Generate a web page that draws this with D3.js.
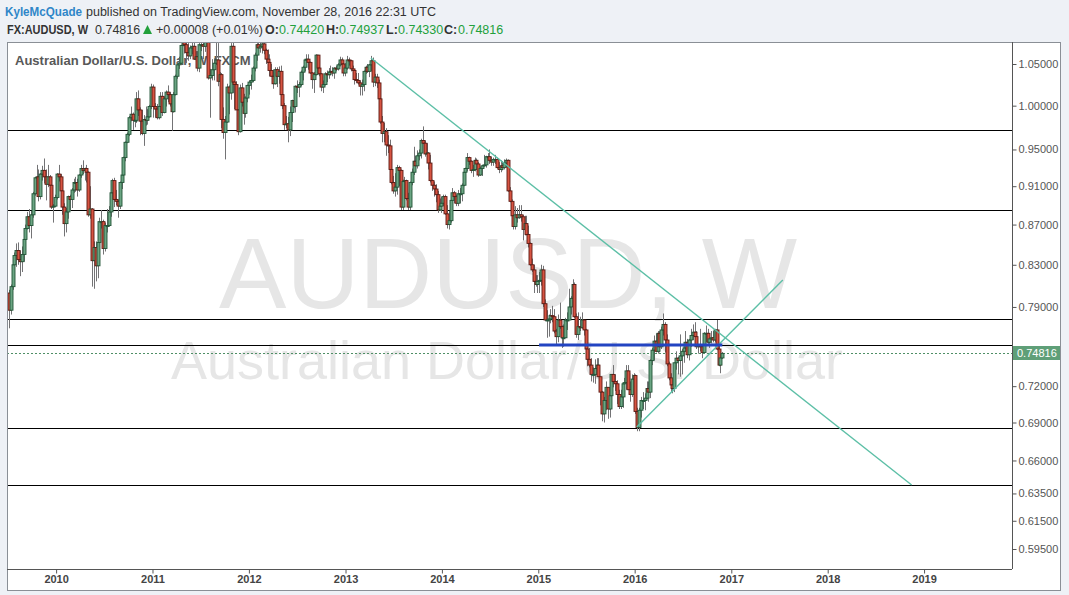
<!DOCTYPE html>
<meta charset="utf-8">
<style>
body { margin: 0; background: #eef1f6; }
svg { display: block; }
.hdr { font-family: "Liberation Sans", Arial, sans-serif; font-size: 12.5px; fill: #333; }
.hdr .b { font-weight: bold; }
.hdr .g { fill: #22a03c; }
.axis text { font-family: "Liberation Sans", Arial, sans-serif; font-size: 11px; fill: #555; }
.axis line { stroke: #555; }
.axis path { display: none; }
.axis--x text { font-weight: bold; fill: #444; }
.wm { font-family: "Liberation Sans", Arial, sans-serif; fill: #e6e6e6; text-anchor: middle; }
.wick { stroke: #737375; stroke-width: 1; }
.hline { stroke: #000; stroke-width: 1; shape-rendering: crispEdges; }
.trend { stroke: #5cbfa6; stroke-width: 1.4; fill: none; }
</style>
<svg width="1069" height="595"></svg>
<script src="https://d3js.org/d3.v7.min.js"></script>
<script>

// weekly bars, [open, high, low, close] in 1/10000 USD, first bar week of 2009-07-06
var firstWeek = new Date(2009, 6, 6);

var weeks2009 = [[8030,8060,7705,7870],[7870,8110,7830,8090],[8090,8320,8060,8300],[8300,8420,8220,8390],[8390,8510,8280,8440],[8440,8520,8300,8350],[8350,8440,8190,8330],[8330,8480,8230,8400],[8400,8580,8330,8550],[8550,8700,8500,8660],
  [8660,8830,8650,8780],[8780,8860,8620,8690],[8690,8840,8560,8800],[8800,9040,8770,9020],[9020,9200,9000,9190],[9190,9330,9160,9200],[9200,9280,8940,8990],[8990,9240,8960,9230],[9230,9320,9160,9270],[9270,9400,9130,9200],
  [9200,9280,8950,9120],[9120,9330,9090,9200],[9200,9220,9030,9110],[9110,9160,8860,8880],[8880,8910,8720,8890],[8890,9010,8880,8980]];

var weeks2010 = [[8980,9240,8960,9230],[9230,9330,9150,9200],[9200,9230,9020,9050],[9050,9070,8800,8880],[8880,8920,8580,8710],[8710,8870,8620,8830],[8830,9000,8760,8990],[8990,9010,8840,8960],[8960,9080,8870,9060],[9060,9180,9030,9140],
  [9140,9200,9040,9140],[9140,9180,8990,9060],[9060,9230,9040,9220],[9220,9330,9190,9290],[9290,9380,9230,9270],[9270,9300,9160,9290],[9290,9330,9140,9250],[9250,9260,8780,8800],[8800,9100,8760,8860],[8860,8870,8090,8340],
  [8340,8530,8070,8470],[8470,8530,8140,8290],[8290,8530,8170,8520],[8520,8770,8490,8730],[8730,8850,8660,8730],[8730,8750,8400,8460],[8460,8720,8430,8690],[8690,8860,8620,8690],[8690,8890,8680,8830],[8830,9060,8780,9030],
  [9030,9180,9010,9160],[9160,9190,8880,8960],[8960,9060,8900,8940],[8940,8960,8770,8890],[8890,9150,8860,9140],[9140,9250,9070,9220],[9220,9420,9180,9410],[9410,9590,9370,9580],[9580,9690,9570,9670],[9670,9880,9650,9860],
  [9860,9990,9820,9900],[9900,9920,9720,9830],[9830,9950,9750,9830],[9830,10160,9800,10080],[10080,10180,9880,9950],[9950,9980,9660,9820],[9820,9950,9660,9680],[9680,9890,9540,9840],[9840,9990,9770,9830],[9830,9960,9780,9870],
  [9870,10010,9860,9990],[9990,10260,9960,10220]];

var weeks2011 = [[10220,10250,9860,9990],[9990,10030,9860,9960],[9960,10020,9840,9860],[9860,10010,9840,9990],[9990,10160,9950,10110],[10110,10160,9880,9920],[9920,10110,9910,10080],[10080,10180,9990,10160],[10160,10240,10040,10130],[10130,10160,9990,10020],
  [10020,10080,9710,9930],[9930,10160,9920,10130],[10130,10370,10120,10350],[10350,10530,10320,10490],[10490,10590,10440,10510],[10510,10740,10500,10730],[10730,10950,10720,10950],[10950,11010,10630,10740],[10740,10890,10510,10640],[10640,10760,10540,10600],
  [10600,10730,10560,10700],[10700,10790,10620,10720],[10720,10780,10550,10560],[10560,10660,10510,10590],[10590,10660,10410,10450],[10450,10770,10400,10740],[10740,10800,10660,10740],[10740,10830,10560,10720],[10720,10930,10650,10890],[10890,11080,10820,10960],
  [10960,11000,10310,10330],[10330,10440,9860,10360],[10360,10560,10300,10430],[10430,10570,10300,10510],[10510,10770,10490,10550],[10550,10760,10230,10290],[10290,10400,10100,10370],[10370,10390,9740,9840],[9840,9980,9620,9690],[9690,9880,9390,9810],
  [9810,10260,9800,10220],[10220,10240,9900,10150],[10150,10760,10070,10720],[10720,10770,10150,10280],[10280,10370,9960,10250],[10250,10290,9950,9950],[9950,9960,9660,9700],[9700,10250,9690,10210],[10210,10270,9990,10040],[10040,10140,9780,9910],
  [9910,10110,9860,10090],[10090,10250,10040,10240]];

var weeks2012 = [[10240,10300,10130,10280],[10280,10370,10190,10300],[10300,10470,10280,10450],[10450,10640,10410,10610],[10610,10760,10540,10740],[10740,10860,10620,10700],[10700,10800,10640,10720],[10720,10800,10630,10750],[10750,10850,10620,10670],[10670,10690,10500,10560],
  [10560,10680,10440,10520],[10520,10620,10350,10420],[10420,10500,10350,10350],[10350,10430,10200,10260],[10260,10460,10250,10430],[10430,10460,10220,10350],[10350,10470,10260,10410],[10410,10480,10070,10130],[10130,10140,9960,10000],[10000,10030,9720,9780],
  [9780,9880,9740,9790],[9790,9870,9580,9720],[9720,9990,9650,9920],[9920,10070,9810,10060],[10060,10160,9970,9990],[9990,10240,9920,10230],[10230,10300,10150,10220],[10220,10280,10100,10250],[10250,10420,10230,10400],[10400,10480,10300,10460],
  [10460,10560,10410,10550],[10550,10620,10510,10560],[10560,10620,10430,10520],[10520,10530,10380,10390],[10390,10400,10200,10310],[10310,10400,10150,10370],[10370,10620,10360,10610],[10610,10610,10400,10450],[10450,10510,10350,10380],[10380,10390,10170,10220],
  [10220,10300,10150,10250],[10250,10400,10240,10380],[10380,10420,10280,10370],[10370,10450,10320,10400],[10400,10480,10360,10410],[10410,10460,10350,10390],[10390,10460,10320,10450],[10450,10480,10410,10440],[10440,10510,10420,10490],[10490,10590,10470,10550],
  [10550,10580,10440,10500],[10500,10510,10350,10390],[10390,10510,10350,10450]];

var weeks2013 = [[10450,10600,10430,10550],[10550,10580,10480,10540],[10540,10550,10410,10440],[10440,10480,10360,10420],[10420,10440,10250,10310],[10310,10390,10270,10300],[10300,10390,10250,10270],[10270,10300,10120,10230],[10230,10310,10120,10250],[10250,10420,10170,10410],
  [10410,10480,10380,10460],[10460,10500,10390,10410],[10410,10500,10340,10490],[10490,10600,10410,10540],[10540,10580,10220,10280],[10280,10380,10230,10340],[10340,10380,10210,10270],[10270,10310,10050,10080],[10080,10100,9790,9810],[9810,9880,9580,9680],
  [9680,9800,9580,9700],[9700,9740,9430,9550],[9550,9660,9460,9540],[9540,9610,9230,9280],[9280,9320,9120,9140],[9140,9210,9020,9050],[9050,9240,8990,9090],[9090,9330,9010,9300],[9300,9320,9100,9270],[9270,9280,8850,8880],
  [8880,9170,8850,9150],[9150,9200,9050,9160],[9160,9170,8950,8970],[8970,9030,8850,8880],[8880,9150,8850,9140],[9140,9290,9110,9250],[9250,9530,9220,9370],[9370,9430,9300,9320],[9320,9490,9290,9430],[9430,9500,9380,9460],
  [9460,9620,9400,9600],[9600,9760,9560,9570],[9570,9600,9420,9450],[9450,9570,9390,9460],[9460,9470,9280,9350],[9350,9440,9140,9160],[9160,9170,9050,9110],[9110,9150,8990,9070],[9070,9120,8930,9010],[9010,9050,8820,8850],
  [8850,8970,8840,8890],[8890,8990,8820,8920]];

var weeks2014 = [[8920,9010,8890,8990],[8990,9010,8800,8810],[8810,8900,8660,8700],[8700,8840,8650,8740],[8740,8970,8720,8950],[8950,9080,8910,9030],[9030,9050,8920,8990],[8990,9010,8890,8920],[8920,9060,8890,9020],[9020,9080,8920,9020],
  [9020,9130,8940,9110],[9110,9270,9100,9250],[9250,9300,9220,9290],[9290,9460,9260,9410],[9410,9420,9330,9370],[9370,9380,9240,9270],[9270,9330,9200,9280],[9280,9410,9260,9380],[9380,9400,9310,9340],[9340,9360,9200,9220],
  [9220,9310,9210,9290],[9290,9330,9210,9320],[9320,9440,9310,9330],[9330,9430,9300,9420],[9420,9460,9380,9420],[9420,9500,9340,9380],[9380,9420,9320,9360],[9360,9410,9320,9390],[9390,9440,9340,9390],[9390,9410,9290,9300],
  [9300,9360,9240,9280],[9280,9380,9250,9320],[9320,9370,9270,9300],[9300,9390,9280,9350],[9350,9400,9300,9380],[9380,9390,9040,9050],[9050,9090,8930,8940],[8940,8960,8740,8790],[8790,8800,8650,8680],[8680,8890,8650,8800],
  [8800,8870,8720,8770],[8770,8900,8760,8800],[8800,8900,8730,8780],[8780,8800,8540,8650],[8650,8790,8590,8710],[8710,8790,8590,8600],[8600,8690,8470,8510],[8510,8520,8290,8300],[8300,8360,8230,8250],[8250,8300,8030,8140],
  [8140,8200,8090,8110],[8110,8200,8030,8140]];

var weeks2015 = [[8140,8230,8030,8150],[8150,8300,8100,8250],[8250,8290,7900,7930],[7930,7970,7770,7780],[7780,7870,7620,7780],[7780,7830,7630,7790],[7790,7880,7750,7820],[7820,7910,7760,7810],[7810,7880,7660,7680],[7680,7700,7560,7630],
  [7630,7830,7580,7780],[7780,7940,7700,7720],[7720,7730,7530,7620],[7620,7740,7540,7620],[7620,7800,7620,7780],[7780,7850,7690,7780],[7780,8070,7780,7900],[7900,8000,7830,7980],[7980,8160,7950,8110],[8110,8130,7800,7810],
  [7810,7840,7620,7650],[7650,7850,7600,7720],[7720,7810,7680,7710],[7710,7850,7700,7780],[7780,7780,7640,7690],[7690,7700,7520,7520],[7520,7550,7370,7430],[7430,7530,7360,7380],[7380,7440,7240,7300],[7300,7360,7230,7300],
  [7300,7430,7220,7350],[7350,7440,7310,7380],[7380,7440,7280,7280],[7280,7280,7040,7150],[7150,7160,6910,6970],[6970,7110,6900,7080],[7080,7240,7000,7190],[7190,7190,6930,7010],[7010,7130,6940,7120],[7120,7300,7080,7300],
  [7300,7380,7190,7240],[7240,7300,7160,7220],[7220,7250,7050,7130],[7130,7170,7010,7030],[7030,7170,7010,7110],[7110,7220,7020,7220],[7220,7270,7160,7230],[7230,7380,7170,7330],[7330,7380,7170,7170],[7170,7240,7070,7130],
  [7130,7300,7110,7260],[7260,7310,7240,7290]];

var weeks2016 = [[7290,7300,6970,6990],[6990,7020,6830,6860],[6860,7020,6830,7000],[7000,7110,6940,7080],[7080,7150,7010,7080],[7080,7140,7000,7100],[7100,7240,7090,7180],[7180,7240,7070,7150],[7150,7430,7100,7420],[7420,7530,7380,7510],
  [7510,7640,7420,7590],[7590,7660,7490,7500],[7500,7680,7480,7660],[7660,7680,7490,7540],[7540,7720,7520,7690],[7690,7840,7640,7740],[7740,7760,7490,7600],[7600,7650,7370,7390],[7390,7410,7250,7270],[7270,7310,7150,7210],
  [7210,7250,7140,7180],[7180,7400,7150,7400],[7400,7500,7340,7440],[7440,7450,7300,7420],[7420,7650,7280,7460],[7460,7520,7300,7500],[7500,7550,7400,7530],[7530,7680,7500,7580],[7580,7610,7440,7470],[7470,7610,7420,7600],
  [7600,7700,7540,7640],[7640,7740,7600,7670],[7670,7760,7610,7630],[7630,7680,7520,7540],[7540,7560,7480,7550],[7550,7700,7500,7540],[7540,7550,7440,7490],[7490,7670,7490,7660],[7660,7730,7580,7660],[7660,7700,7560,7580],
  [7580,7640,7530,7610],[7610,7680,7570,7620],[7620,7680,7580,7600],[7600,7700,7580,7690],[7690,7780,7510,7520],[7520,7560,7370,7380],[7380,7450,7310,7442],[7442,7494,7433,7482]];

var lastPrice = 0.74816;
var priceTicks = [1.05, 1.00, 0.95, 0.91, 0.87, 0.83, 0.79, 0.72, 0.69, 0.66, 0.635, 0.615, 0.595];
var yearTicks = [2010, 2011, 2012, 2013, 2014, 2015, 2016, 2017, 2018, 2019];

// drawn levels and lines
var levels = [0.972, 0.885, 0.779, 0.7555, 0.6855, 0.6413];
var trendLines = [
  [["2013-04-07", 1.0574], ["2018-11-15", 0.6413]],
  [["2016-01-09", 0.6864], ["2017-07-15", 0.8153]]
];
var blueLine = [["2015-01-04", 0.7555], ["2016-11-28", 0.7555]];

var svg = d3.select("svg"),
    plotLeft = 7, plotRight = 1012, plotTop = 42, plotBottom = 569, outerRight = 1060, outerBottom = 590;

var parseDay = d3.timeParse("%Y-%m-%d");

var x = d3.scaleTime()
    .domain([new Date(2009, 5, 29), new Date(2019, 10, 30)])
    .range([plotLeft, plotRight]);
var y = d3.scaleLog()
    .domain([0.595, 1.05])
    .range([549, 64]);

var bars = [].concat(weeks2009, weeks2010, weeks2011, weeks2012, weeks2013, weeks2014, weeks2015, weeks2016)
  .map(function(w, i) {
    return {date: d3.timeDay.offset(firstWeek, 7 * i), o: w[0] / 1e4, h: w[1] / 1e4, l: w[2] / 1e4, c: w[3] / 1e4};
  });

// header
var hdr = svg.append("text").attr("class", "hdr").attr("y", 16);
hdr.append("tspan").attr("x", 5).style("fill", "#2f86c8").style("font-weight", "bold")
    .attr("textLength", 77).attr("lengthAdjust", "spacingAndGlyphs").text("KyleMcQuade");
hdr.append("tspan").attr("x", 86).text("published on TradingView.com, November 28, 2016 22:31 UTC");

var hdr2 = svg.append("text").attr("class", "hdr").attr("y", 34);
hdr2.append("tspan").attr("x", 7).attr("class", "b")
    .attr("textLength", 81).attr("lengthAdjust", "spacingAndGlyphs").text("FX:AUDUSD, W");
hdr2.append("tspan").attr("x", 95).text("0.74816");
hdr2.append("tspan").attr("x", 156).text("+0.00008 (+0.01%)");
[["O:", 265, "0.74420", 279], ["H:", 326, "0.74937", 339], ["L:", 386, "0.74330", 398], ["C:", 444, "0.74816", 458]]
  .forEach(function(p) {
    hdr2.append("tspan").attr("x", p[1]).attr("class", "b").text(p[0]);
    hdr2.append("tspan").attr("x", p[3]).attr("class", "g").text(p[2]);
  });
svg.append("path").attr("d", "M143,34L147.5,25L152,34Z").attr("fill", "#22a03c");

// chart panel
svg.append("rect")
    .attr("x", plotLeft + 0.5).attr("y", plotTop + 0.5)
    .attr("width", outerRight - plotLeft).attr("height", outerBottom - plotTop)
    .attr("fill", "#fff").attr("stroke", "#8a8f96");

svg.append("defs").append("clipPath").attr("id", "clip")
  .append("rect").attr("x", plotLeft + 1).attr("y", plotTop + 1)
  .attr("width", plotRight - plotLeft - 1).attr("height", plotBottom - plotTop - 1);

// watermark
svg.append("text").attr("class", "wm").attr("x", 508).attr("y", 308)
    .style("font-size", "101px").text("AUDUSD, W");
svg.append("text").attr("class", "wm").attr("x", 507).attr("y", 379)
    .style("font-size", "54px").text("Australian Dollar/U.S. Dollar");

svg.append("text").attr("x", 15).attr("y", 65)
    .style("font-family", "'Liberation Sans', Arial, sans-serif").style("font-size", "13px")
    .style("font-weight", "bold").attr("fill", "#585858")
    .text("Australian Dollar/U.S. Dollar, W, FXCM");

var g = svg.append("g").attr("clip-path", "url(#clip)");

g.selectAll(".hline").data(levels).enter().append("line")
    .attr("class", "hline")
    .attr("x1", plotLeft).attr("x2", plotRight)
    .attr("y1", function(d) { return Math.round(y(d)) + 0.5; })
    .attr("y2", function(d) { return Math.round(y(d)) + 0.5; });

g.append("line")
    .attr("x1", plotLeft).attr("x2", plotRight)
    .attr("y1", Math.round(y(lastPrice)) + 0.5).attr("y2", Math.round(y(lastPrice)) + 0.5)
    .attr("stroke", "#4f8f66").attr("stroke-dasharray", "2,2");

g.selectAll(".wick").data(bars).enter().append("line")
    .attr("class", "wick")
    .attr("x1", function(d) { return Math.round(x(d.date)) + 0.5; })
    .attr("x2", function(d) { return Math.round(x(d.date)) + 0.5; })
    .attr("y1", function(d) { return y(d.h); })
    .attr("y2", function(d) { return y(d.l); });

g.selectAll(".body").data(bars).enter().append("rect")
    .attr("class", "body")
    .attr("x", function(d) { return Math.round(x(d.date)) - 1; })
    .attr("width", 3)
    .attr("y", function(d) { return y(Math.max(d.o, d.c)); })
    .attr("height", function(d) { return Math.max(1, Math.abs(y(d.o) - y(d.c))); })
    .attr("fill", function(d) { return d.c >= d.o ? "#6ba583" : "#d75442"; })
    .attr("stroke", function(d) { return d.c >= d.o ? "#225437" : "#5b1a13"; })
    .attr("stroke-width", 0.9);

var line = d3.line()
    .x(function(d) { return x(parseDay(d[0])); })
    .y(function(d) { return y(d[1]); });

g.selectAll(".trend").data(trendLines).enter().append("path")
    .attr("class", "trend")
    .attr("d", line);

g.append("path").datum(blueLine)
    .attr("d", line)
    .attr("fill", "none")
    .attr("stroke", "#2344c2")
    .attr("stroke-width", 3);

// frame lines
svg.append("line").attr("x1", plotRight + 0.5).attr("x2", plotRight + 0.5).attr("y1", plotTop).attr("y2", plotBottom)
    .attr("stroke", "#555");
svg.append("line").attr("x1", plotLeft).attr("x2", plotRight).attr("y1", plotBottom + 0.5).attr("y2", plotBottom + 0.5)
    .attr("stroke", "#555");

// price axis
svg.append("g")
    .attr("class", "axis axis--y")
    .attr("transform", "translate(" + (plotRight + 0.5) + ",0)")
    .call(d3.axisRight(y).tickValues(priceTicks).tickFormat(d3.format(".5f")).tickSize(4).tickPadding(2));

var py = Math.round(y(lastPrice));
svg.append("rect").attr("x", plotRight + 1).attr("y", py - 7).attr("width", outerRight - plotRight - 1).attr("height", 14)
    .attr("fill", "#5f9f78");
svg.append("text").attr("x", plotRight + 5).attr("y", py + 4)
    .style("font-family", "'Liberation Sans', Arial, sans-serif").style("font-size", "11px")
    .attr("fill", "#fff").text("0.74816");

// time axis
svg.append("g")
    .attr("class", "axis axis--x")
    .attr("transform", "translate(0," + (plotBottom + 0.5) + ")")
    .call(d3.axisBottom(x)
      .tickValues(yearTicks.map(function(yr) { return new Date(yr, 0, 1); }))
      .tickFormat(d3.timeFormat("%Y")).tickSize(4).tickPadding(2));

</script>
